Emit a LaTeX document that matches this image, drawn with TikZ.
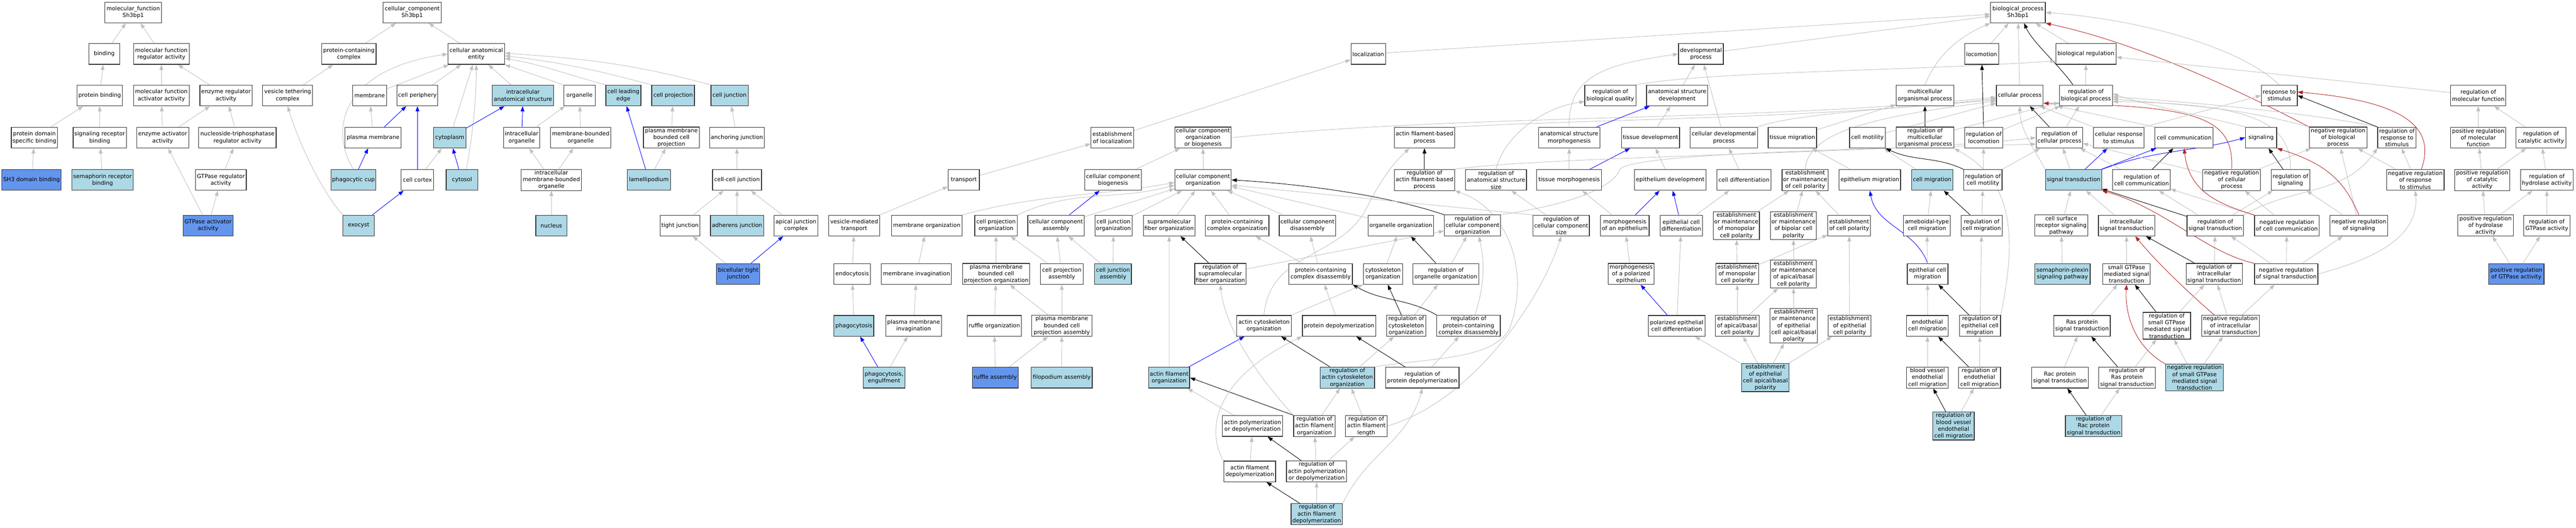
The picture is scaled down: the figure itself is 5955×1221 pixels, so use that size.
\documentclass[tikz,border=0pt]{standalone}
\usepackage{fontspec}
\setmainfont{DejaVu Sans}
\usetikzlibrary{arrows.meta,calc}
\definecolor{silv}{HTML}{C0C0C0}
\definecolor{fred}{HTML}{B22222}
\definecolor{lblue}{HTML}{ADD8E6}
\definecolor{cblue}{HTML}{6495ED}
\definecolor{bord}{HTML}{303030}
\pgfdeclarelayer{bg}
\pgfdeclarelayer{paper}
\pgfsetlayers{paper,bg,main}
\tikzset{
 bx/.style={draw=bord,line width=1.1pt,rectangle,align=center,inner xsep=1.5pt,inner ysep=1.7pt,minimum height=36pt,font=\fontsize{9.7}{11.85}\selectfont,fill=white},
 lb/.style={fill=lblue}, cb/.style={fill=cblue}, wt/.style={},
 ed/.style={line width=0.8pt,-{Triangle[length=9pt,width=6.5pt]}},
 g/.style={ed,draw=silv},
 bl/.style={ed,draw=blue},
 bk/.style={ed,draw=black},
 rd/.style={ed,draw=fred},
}
\newcommand{\nd}[6]{\node[bx,#5,minimum width={#4*0.75pt}] (#1) at (#2,#3) {#6};}
\begin{document}
\begin{tikzpicture}[x=0.75pt,y=-0.75pt]
\begin{pgfonlayer}{paper}
\fill[white] (0,0) rectangle (5955,1221);
\end{pgfonlayer}
\useasboundingbox (0,0) rectangle (5955,1221);
% ---------------- molecular function
\nd{mf}{308}{29}{131}{wt}{molecular\_function\\Sh3bp1}
\nd{binding}{241}{125}{72}{wt}{binding}
\nd{mfra}{373}{125}{128.5}{wt}{molecular function\\regulator activity}
\nd{pb}{230.5}{221}{104}{wt}{protein binding}
\nd{mfaa}{373}{221}{128.5}{wt}{molecular function\\activator activity}
\nd{era}{522.5}{221}{121}{wt}{enzyme regulator\\activity}
\nd{pdsb}{79.6}{318.5}{107}{wt}{protein domain\\specific binding}
\nd{srb}{230.5}{318.5}{123}{wt}{signaling receptor\\binding}
\nd{eaa}{376}{318.5}{120.5}{wt}{enzyme activator\\activity}
\nd{ntpra}{549}{318.5}{179}{wt}{nucleoside-triphosphatase\\regulator activity}
\nd{sh3}{73}{416.5}{137}{cb}{SH3 domain binding}
\nd{semb}{237}{416.5}{141}{lb}{semaphorin receptor\\binding}
\nd{gtpra}{510.7}{416.5}{117.4}{wt}{GTPase regulator\\activity}
\nd{gtpaa}{481}{522}{115.5}{cb}{GTPase activator\\activity}
% ---------------- cellular component
\nd{cc}{953}{29}{134.5}{wt}{cellular\_component\\Sh3bp1}
\nd{pcc}{806.4}{125}{126}{wt}{protein-containing\\complex}
\nd{cae}{1101}{125}{131}{wt}{cellular anatomical\\entity}
\nd{vtc}{665}{221}{115.5}{wt}{vesicle tethering\\complex}
\nd{mem}{854.5}{221}{78}{wt}{membrane}
\nd{cper}{965}{221}{94}{wt}{cell periphery}
\nd{ias}{1209}{221}{142}{lb}{intracellular\\anatomical structure}
\nd{org}{1339.7}{221}{73}{wt}{organelle}
\nd{cle}{1441}{221}{81}{lb}{cell leading\\edge}
\nd{cproj}{1556}{221}{98.7}{lb}{cell projection}
\nd{cjun}{1686.5}{221}{86}{lb}{cell junction}
\nd{pm}{862.5}{318.5}{130}{wt}{plasma membrane}
\nd{cyto}{1039.7}{318.5}{75}{lb}{cytoplasm}
\nd{io}{1206}{318.5}{84}{wt}{intracellular\\organelle}
\nd{mbo}{1342.5}{318.5}{139}{wt}{membrane-bounded\\organelle}
\nd{pmbcp}{1552}{318.5}{129}{wt}{plasma membrane\\bounded cell\\projection}
\nd{aj}{1703.5}{318.5}{126.5}{wt}{anchoring junction}
\nd{pcup}{817}{416.5}{104}{lb}{phagocytic cup}
\nd{cctx}{965}{416.5}{75}{wt}{cell cortex}
\nd{cytosol}{1068}{416.5}{73}{lb}{cytosol}
\nd{imbo}{1274.5}{416.5}{139}{wt}{intracellular\\membrane-bounded\\organelle}
\nd{lam}{1500}{416.5}{99.5}{lb}{lamellipodium}
\nd{ccj}{1703.7}{416.5}{113}{wt}{cell-cell junction}
\nd{exo}{829}{522}{72}{lb}{exocyst}
\nd{nuc}{1274.5}{522}{72}{lb}{nucleus}
\nd{tj}{1572}{522}{91}{wt}{tight junction}
\nd{adj}{1703.8}{522}{123}{lb}{adherens junction}
\nd{ajc}{1840}{522}{102}{wt}{apical junction\\complex}
\nd{btj}{1706.5}{634}{100}{cb}{bicellular tight\\junction}
% ---------------- biological process
\nd{bp}{4665}{29}{126.6}{wt}{biological\_process\\Sh3bp1}
\nd{loc}{3163}{125}{80}{wt}{localization}
\nd{dev}{3932}{125}{103.7}{wt}{developmental\\process}
\nd{loco}{4581}{125}{78}{wt}{locomotion}
\nd{breg}{4822}{125}{139.3}{wt}{biological regulation}
\nd{rbq}{3722.6}{221}{118}{wt}{regulation of\\biological quality}
\nd{asd}{3877}{221}{141}{wt}{anatomical structure\\development}
\nd{mop}{4450}{221}{133.3}{wt}{multicellular\\organismal process}
\nd{cp}{4669}{221}{108}{wt}{cellular process}
\nd{rbp}{4822}{221}{123}{wt}{regulation of\\biological process}
\nd{rts}{5269}{221}{83}{wt}{response to\\stimulus}
\nd{rmf}{5729}{221}{127.5}{wt}{regulation of\\molecular function}
\nd{estloc}{2571.5}{318.5}{99}{wt}{establishment\\of localization}
\nd{ccob}{2781}{318.5}{130.6}{wt}{cellular component\\organization\\or biogenesis}
\nd{afbp}{3293}{318.5}{139}{wt}{actin filament-based\\process}
\nd{asm}{3627.5}{318.5}{142}{wt}{anatomical structure\\morphogenesis}
\nd{td}{3815.7}{318.5}{134}{wt}{tissue development}
\nd{cdp}{3985}{318.5}{155.4}{wt}{cellular developmental\\process}
\nd{tm}{4143.4}{318.5}{112}{wt}{tissue migration}
\nd{cmot}{4317}{318.5}{83}{wt}{cell motility}
\nd{rmop}{4450}{318.5}{133.3}{wt}{regulation of\\multicellular\\organismal process}
\nd{rloco}{4586}{318.5}{88.4}{wt}{regulation of\\locomotion}
\nd{rcp}{4760.7}{318.5}{107}{wt}{regulation of\\cellular process}
\nd{crs}{4898}{318.5}{117}{wt}{cellular response\\to stimulus}
\nd{ccom}{5049}{318.5}{134.6}{wt}{cell communication}
\nd{sig}{5227}{318.5}{72}{wt}{signaling}
\nd{nrbp}{5405}{318.5}{133.3}{wt}{negative regulation\\of biological\\process}
\nd{rrs}{5541}{318.5}{89}{wt}{regulation of\\response to\\stimulus}
\nd{prmf}{5729}{318.5}{127.5}{wt}{positive regulation\\of molecular\\function}
\nd{rca}{5874}{318.5}{115}{wt}{regulation of\\catalytic activity}
\nd{transport}{2228}{416.5}{72}{wt}{transport}
\nd{ccbio}{2573}{416.5}{130.6}{wt}{cellular component\\biogenesis}
\nd{cco}{2781}{416.5}{130.6}{wt}{cellular component\\organization}
\nd{rafbp}{3293}{416.5}{139}{wt}{regulation of\\actin filament-based\\process}
\nd{rass}{3458.4}{416.5}{141}{wt}{regulation of\\anatomical structure\\size}
\nd{tmorph}{3627.5}{416.5}{150}{wt}{tissue morphogenesis}
\nd{epd}{3861}{416.5}{166}{wt}{epithelium development}
\nd{cdiff}{4031.6}{416.5}{125}{wt}{cell differentiation}
\nd{emcp}{4173}{416.5}{107}{wt}{establishment\\or maintenance\\of cell polarity}
\nd{epmig}{4322.6}{416.5}{142}{wt}{epithelium migration}
\nd{cmig}{4466.6}{416.5}{95}{lb}{cell migration}
\nd{rcmot}{4584}{416.5}{88.4}{wt}{regulation of\\cell motility}
\nd{st}{4793.5}{416.5}{130}{lb}{signal transduction}
\nd{rcc}{4950.5}{416.5}{133}{wt}{regulation of\\cell communication}
\nd{nrcp}{5159}{416.5}{133.3}{wt}{negative regulation\\of cellular\\process}
\nd{rsig}{5295}{416.5}{89}{wt}{regulation of\\signaling}
\nd{nrrs}{5583.5}{416.5}{133.3}{wt}{negative regulation\\of response\\to stimulus}
\nd{prca}{5738}{416.5}{127.5}{wt}{positive regulation\\of catalytic\\activity}
\nd{rha}{5887.5}{416.5}{121.6}{wt}{regulation of\\hydrolase activity}
\nd{vmt}{1974.7}{522}{118}{wt}{vesicle-mediated\\transport}
\nd{memorg}{2142.5}{522}{162.8}{wt}{membrane organization}
\nd{cpo}{2302.5}{522}{98.5}{wt}{cell projection\\organization}
\nd{cca}{2441}{522}{130}{wt}{cellular component\\assembly}
\nd{cjo}{2574}{522}{85.7}{wt}{cell junction\\organization}
\nd{sfo}{2702.7}{522}{119}{wt}{supramolecular\\fiber organization}
\nd{pcco}{2860}{522}{147}{wt}{protein-containing\\complex organization}
\nd{ccd}{3022.4}{522}{130.6}{wt}{cellular component\\disassembly}
\nd{oo}{3238.4}{522}{151.4}{wt}{organelle organization}
\nd{rcco}{3404}{522}{130}{wt}{regulation of\\cellular component\\organization}
\nd{rccs}{3609}{522}{130.6}{wt}{regulation of\\cellular component\\size}
\nd{moae}{3756}{522}{112.5}{wt}{morphogenesis\\of an epithelium}
\nd{ecd}{3886.6}{522}{97.7}{wt}{epithelial cell\\differentiation}
\nd{emmcp}{4014}{522}{106.5}{wt}{establishment\\or maintenance\\of monopolar\\cell polarity}
\nd{embcp}{4146}{522}{106.5}{wt}{establishment\\or maintenance\\of bipolar cell\\polarity}
\nd{ecp}{4274.7}{522}{98.5}{wt}{establishment\\of cell polarity}
\nd{atcm}{4454.5}{522}{108.5}{wt}{ameboidal-type\\cell migration}
\nd{rcmig}{4581}{522}{95}{wt}{regulation of\\cell migration}
\nd{csrsp}{4765}{522}{122.6}{wt}{cell surface\\receptor signaling\\pathway}
\nd{ist}{4916}{522}{130}{wt}{intracellular\\signal transduction}
\nd{rst}{5121}{522}{130.7}{wt}{regulation of\\signal transduction}
\nd{nrcc}{5286.5}{522}{149.7}{wt}{negative regulation\\of cell communication}
\nd{nrsig}{5453}{522}{132.7}{wt}{negative regulation\\of signaling}
\nd{prha}{5746}{522}{128}{wt}{positive regulation\\of hydrolase\\activity}
\nd{rgtpa}{5887.5}{522}{107}{wt}{regulation of\\GTPase activity}
\nd{endo}{1970}{634}{84}{wt}{endocytosis}
\nd{meminv}{2118.6}{634}{162}{wt}{membrane invagination}
\nd{pmbcpo}{2302.8}{634}{155.4}{wt}{plasma membrane\\bounded cell\\projection organization}
\nd{cpa}{2454.6}{634}{98.5}{wt}{cell projection\\assembly}
\nd{cja}{2573}{634}{85}{lb}{cell junction\\assembly}
\nd{rsfo}{2821}{634}{118}{wt}{regulation of\\supramolecular\\fiber organization}
\nd{pccd}{3053}{634}{146.7}{wt}{protein-containing\\complex disassembly}
\nd{cso}{3197}{634}{90.4}{wt}{cytoskeleton\\organization}
\nd{roo}{3342.5}{634}{152}{wt}{regulation of\\organelle organization}
\nd{mpe}{3770.5}{634}{106.5}{wt}{morphogenesis\\of a polarized\\epithelium}
\nd{emon}{4016}{634}{98.5}{wt}{establishment\\of monopolar\\cell polarity}
\nd{emab}{4146}{634}{106.5}{wt}{establishment\\or maintenance\\of apical/basal\\cell polarity}
\nd{ecm}{4456}{634}{94}{wt}{epithelial cell\\migration}
\nd{spsp}{4767.7}{634}{128}{lb}{semaphorin-plexin\\signaling pathway}
\nd{sgst}{4916}{634}{110}{wt}{small GTPase\\mediated signal\\transduction}
\nd{rist}{5118.5}{634}{130}{wt}{regulation of\\intracellular\\signal transduction}
\nd{nrst}{5285}{634}{146.4}{wt}{negative regulation\\of signal transduction}
\nd{prgtpa}{5817}{634}{128}{cb}{positive regulation\\of GTPase activity}
\nd{phago}{1974}{754}{92}{lb}{phagocytosis}
\nd{pminv}{2112}{754}{128.6}{wt}{plasma membrane\\invagination}
\nd{ruforg}{2298.6}{754}{125}{wt}{ruffle organization}
\nd{pmbcpa}{2454.6}{754}{138.6}{wt}{plasma membrane\\bounded cell\\projection assembly}
\nd{aco}{2922}{754}{125.5}{wt}{actin cytoskeleton\\organization}
\nd{pdepol}{3095.7}{754}{170}{wt}{protein depolymerization}
\nd{rcso}{3250.8}{754}{90.4}{wt}{regulation of\\cytoskeleton\\organization}
\nd{rpccd}{3394.7}{754}{146.7}{wt}{regulation of\\protein-containing\\complex disassembly}
\nd{pecd}{3876}{754}{130.5}{wt}{polarized epithelial\\cell differentiation}
\nd{eab}{4016}{754}{102}{wt}{establishment\\of apical/basal\\cell polarity}
\nd{emeab}{4146.5}{754}{110}{wt}{establishment\\or maintenance\\of epithelial\\cell apical/basal\\polarity}
\nd{eecp}{4275.7}{754}{99}{wt}{establishment\\of epithelial\\cell polarity}
\nd{endcm}{4455.6}{754}{96}{wt}{endothelial\\cell migration}
\nd{recm}{4577}{754}{95}{wt}{regulation of\\epithelial cell\\migration}
\nd{rasst}{4813}{754}{130.6}{wt}{Ras protein\\signal transduction}
\nd{rsgst}{5009}{754}{110}{wt}{regulation of\\small GTPase\\mediated signal\\transduction}
\nd{nrist}{5156}{754}{133.3}{wt}{negative regulation\\of intracellular\\signal transduction}
\nd{phagoe}{2043.7}{874}{96.5}{lb}{phagocytosis,\\engulfment}
\nd{rufa}{2301}{874}{106.5}{cb}{ruffle assembly}
\nd{filo}{2454.5}{874}{141}{lb}{filopodium assembly}
\nd{afo}{2702.6}{874}{95}{lb}{actin filament\\organization}
\nd{raco}{3114.5}{874}{126}{lb}{regulation of\\actin cytoskeleton\\organization}
\nd{rpdepol}{3288}{874}{170}{wt}{regulation of\\protein depolymerization}
\nd{eeab}{4081}{874}{110}{lb}{establishment\\of epithelial\\cell apical/basal\\polarity}
\nd{bvecm}{4455.6}{874}{96}{wt}{blood vessel\\endothelial\\cell migration}
\nd{rendcm}{4576}{874}{97}{wt}{regulation of\\endothelial\\cell migration}
\nd{racst}{4762}{874}{130.6}{wt}{Rac protein\\signal transduction}
\nd{rrasst}{4917}{874}{130.5}{wt}{regulation of\\Ras protein\\signal transduction}
\nd{nrsgst}{5073}{874}{133.3}{lb}{negative regulation\\of small GTPase\\mediated signal\\transduction}
\nd{apd}{2895.5}{986}{139}{wt}{actin polymerization\\or depolymerization}
\nd{rafo}{3038.5}{986}{95.8}{wt}{regulation of\\actin filament\\organization}
\nd{rafl}{3158.4}{986}{95.8}{wt}{regulation of\\actin filament\\length}
\nd{rbvecm}{4516}{986}{95.8}{lb}{regulation of\\blood vessel\\endothelial\\cell migration}
\nd{rracst}{4840}{986}{130.6}{lb}{regulation of\\Rac protein\\signal transduction}
\nd{afd}{2889}{1091}{120}{wt}{actin filament\\depolymerization}
\nd{rapd}{3043.4}{1091}{139.3}{wt}{regulation of\\actin polymerization\\or depolymerization}
\nd{rafd}{3044}{1190}{119}{lb}{regulation of\\actin filament\\depolymerization}
\begin{pgfonlayer}{bg}
% MF edges
\draw[g] (binding) -- (mf);
\draw[g] (mfra) -- (mf);
\draw[g] (pb) -- (binding);
\draw[g] (mfaa) -- (mfra);
\draw[g] (era) -- (mfra);
\draw[g] (pdsb) -- (pb);
\draw[g] (srb) -- (pb);
\draw[g] (eaa) -- (mfaa);
\draw[g] (eaa) -- (era);
\draw[g] (ntpra) -- (era);
\draw[g] (sh3) -- (pdsb);
\draw[g] (semb) -- (srb);
\draw[g] (gtpra) -- (ntpra);
\draw[g] (gtpaa) -- (eaa);
\draw[g] (gtpaa) -- (gtpra);
% CC edges
\draw[g] (pcc) -- (cc);
\draw[g] (cae) -- (cc);
\draw[g] (vtc) -- (pcc);
\draw[g] (mem) -- (cae);
\draw[g] (cper) -- (cae);
\draw[g] (ias) -- (cae);
\draw[g] (org.north west) -- (cae.south east);
\draw[g] (cle.north west) to[out=165,in=-10] ($(cae.east)+(0,10)$);
\draw[g] (cproj.north west) to[out=165,in=-7] ($(cae.east)+(0,4)$);
\draw[g] (cjun.north west) to[out=165,in=-4] ($(cae.east)+(0,-2)$);
\draw[g] (pcup.north) .. controls (760,300) and (790,160) .. (cae.west);
\draw[g] (cyto) -- (cae);
\draw[g] ($(cytosol.north)+(10,0)$) .. controls (1095,300) and (1101,220) .. (cae.south);
\draw[g] (pm) -- (mem);
\draw[bl] (pm) -- (cper);
\draw[bl] (cctx) -- (cper);
\draw[bl] (cyto) -- (ias);
\draw[bl] (io) -- (ias);
\draw[g] (io) -- (org);
\draw[g] (mbo) -- (org);
\draw[g] (imbo) -- (io);
\draw[g] (imbo) -- (mbo);
\draw[g] (nuc) -- (imbo);
\draw[bl] (pcup) -- (pm);
\draw[g] (cctx) -- (cyto);
\draw[bl] (cytosol) -- (cyto);
\draw[bl] (exo) -- (cctx);
\draw[g] (exo.north west) .. controls (745,445) and (690,330) .. (vtc.south);
\draw[bl] (lam) -- (cle);
\draw[g] (lam) -- (pmbcp);
\draw[g] (pmbcp) -- (cproj);
\draw[g] (aj) -- (cjun);
\draw[g] (ccj) -- (aj);
\draw[g] (tj) -- (ccj);
\draw[g] (adj) -- (ccj);
\draw[g] (ajc) -- (ccj);
\draw[g] (btj) -- (tj);
\draw[bl] (btj) -- (ajc);
% BP top
\draw[g] (loc) -- (bp);
\draw[g] (dev) -- (bp);
\draw[g] (loco) -- (bp);
\draw[g] (breg) -- (bp);
\draw[g] (mop.north) .. controls (4480,120) and (4540,80) .. (bp.south west);
\draw[g] (cp) -- (bp);
\draw[bk] ($(rbp.north)+(-30,0)$) .. controls (4760,150) and (4700,100) .. ($(bp.south)+(14,0)$);
\draw[g] (rts.north) .. controls (5180,110) and (4950,45) .. (bp.east);
\draw[rd] (nrbp.north west) .. controls (5100,170) and (4900,90) .. (bp.south east);
\draw[g] (rmf) -- (breg);
\draw[g] (rbq.north east) .. controls (3950,165) and (4400,165) .. ($(breg.west)+(0,16)$);
\draw[g] (rbp) -- (breg);
\draw[g] (asd) -- (dev);
\draw[g] (cdp) -- (dev);
\draw[g] (asm.north) .. controls (3625,180) and (3700,150) .. (dev.west);
\draw[bk] (rmop) -- (mop);
\draw[g] (tm) -- (mop);
\draw[g] (ccob.east) .. controls (3406,263) and (4055,282) .. ($(cp.west)+(0,4)$);
\draw[g] (afbp.north east) .. controls (3700,275) and (4200,275) .. ($(cp.west)+(0,7)$);
\draw[g] (cdp.north east) .. controls (4150,262) and (4400,250) .. ($(cp.west)+(0,10)$);
\draw[g] (cmot) -- ($(cp.west)+(0,18)$);
\draw[g] (emcp.north) .. controls (4180,300) and (4350,268) .. ($(cp.west)+(0,13)$);
\draw[bk] (rcp) -- (cp);
\draw[g] (crs.north west) -- ($(cp.south east)+(-8,0)$);
\draw[g] (st.north west) .. controls (4700,340) and (4670,300) .. (cp.south);
\draw[rd] (nrcp.north) .. controls (5165,270) and (5080,245) .. ($(cp.east)+(0,18)$);
\draw[g] (ccom.north west) -- ($(rbp.south west)+(-4,0)$);
\draw[g] (sig.north west) .. controls (5100,270) and (4950,240) .. ($(rbp.east)+(0,-4)$);
\draw[g] (rmop) -- (rbp);
\draw[g] (rloco) -- (rbp);
\draw[g] (rcp) -- (rbp);
\draw[g] (nrbp.north west) to[out=165,in=-5] ($(rbp.east)+(0,8)$);
\draw[g] (rrs.north west) .. controls (5350,262) and (5050,235) .. ($(rbp.east)+(0,3)$);
\draw[g] (rsig.north) .. controls (5296,280) and (5200,240) .. ($(rbp.east)+(0,14)$);
\draw[bk] (rloco) -- (loco);
\draw[g] (crs.north east) -- (rts.west);
\draw[bk] (rrs.north west) -- (rts.east);
\draw[rd] ($(nrrs.north)+(14,0)$) .. controls (5630,300) and (5570,235) .. ($(rts.east)+(0,-8)$);
\draw[g] (prmf) -- (rmf);
\draw[g] (rca) -- (rmf);
\draw[g] (estloc) -- (loc);
\draw[g] (transport) -- (estloc);
\draw[g] (ccbio) -- (ccob);
\draw[g] (cco) -- (ccob);
\draw[bl] (asm) -- (asd);
\draw[g] (td) -- (asd);
\draw[g] (tmorph) -- (asm);
\draw[bl] (tmorph) -- (td);
\draw[g] (epd) -- (td);
\draw[bk] (rafbp) -- (afbp);
\draw[g] (aco.north) .. controls (2935,580) and (3100,600) .. (3160,480) .. controls (3200,400) and (3230,370) .. ($(afbp.south)+(-35,0)$);
\draw[g] (rafbp.north east) .. controls (3600,360) and (4400,355) .. (rcp.west);
\draw[g] (rcco.north east) .. controls (3650,470) and (3730,430) .. (3745,392) .. controls (3770,355) and (4300,345) .. ($(rcp.west)+(0,15)$);
\draw[g] (rass.north) .. controls (3475,320) and (3560,250) .. ($(rbq.west)+(0,14)$);
\draw[g] (rccs) -- (rass);
\draw[g] (moae) -- (tmorph);
\draw[bl] (moae) -- (epd);
\draw[bl] (ecd) -- (epd);
\draw[g] (ecd) -- (cdiff);
\draw[g] (cdiff) -- (cdp);
\draw[g] (emmcp) -- (emcp);
\draw[g] (embcp) -- (emcp);
\draw[g] (ecp) -- (emcp);
\draw[g] (epmig) -- (tm);
\draw[g] (cmig) -- (cmot);
\draw[bk] (rcmot.north west) to[out=155,in=-25] (cmot.south east);
\draw[bl] (ecm.north) to[out=110,in=-80] (epmig.south);
\draw[g] (atcm) -- (cmig);
\draw[bk] (rcmig) -- (cmig);
\draw[g] (rcmig) -- (rcmot);
\draw[g] (rcmot) -- (rloco);
\draw[g] (rcmot) -- (rcp);
\draw[g] (recm.north east) .. controls (4660,560) and (4660,420) .. (rmop.south east);
\draw[g] (st) -- (rcp);
\draw[bl] (st) -- (crs);
\draw[bl] (st) -- (ccom);
\draw[bl] (st.north east) to[out=20,in=195] (sig.west);
\draw[g] (rcc) -- (rcp);
\draw[bk] (rcc) -- (ccom);
\draw[g] (nrcp) -- (rcp);
\draw[g] (nrcp) -- (nrbp);
\draw[bk] (rsig) -- (sig);
\draw[g] (nrrs) -- (rrs);
\draw[g] (nrrs) -- (nrbp);
\draw[g] (prca) -- (prmf);
\draw[g] (prca) -- (rca);
\draw[g] (rha) -- (rca);
\draw[g] (prha) -- (prca);
\draw[g] (prha) -- (rha);
\draw[g] (rgtpa) -- (rha);
\draw[g] (prgtpa) -- (prha);
\draw[g] (prgtpa) -- (rgtpa);
\draw[g] (rst) -- (rcc);
\draw[g] (rst) -- (rsig);
\draw[bk] (rst) -- (st);
\draw[g] (rst.north east) to[out=30,in=-125] (rrs.south west);
\draw[g] (nrcc) -- (rcc);
\draw[g] (nrcc) -- (nrcp);
\draw[rd] (nrcc.north west) .. controls (5120,470) and (5060,440) .. (ccom.south);
\draw[g] (nrsig) -- (rsig);
\draw[g] (nrsig) -- (nrbp);
\draw[rd] (nrsig.north) .. controls (5420,420) and (5380,380) .. (sig.south east);
\draw[g] (ist) -- (st);
\draw[g] (csrsp) -- (st);
\draw[bk] (rist) -- (ist);
\draw[g] (rist) -- (rst);
\draw[g] (nrst) -- (rst);
\draw[g] (nrst) -- (nrcc);
\draw[g] (nrst) -- (nrsig);
\draw[g] (nrst.east) to[out=15,in=-85] (nrrs.south);
\draw[rd] (nrst.north west) .. controls (5100,585) and (5000,480) .. (st.south east);
\draw[rd] ($(nrist.north west)+(30,0)$) .. controls (5040,660) and (4980,600) .. ($(ist.south)+(20,0)$);
\draw[g] (nrist) -- (rist);
\draw[g] (nrist) -- (nrst);
\draw[bk] (rsgst) -- (sgst);
\draw[g] (rsgst) -- (rist);
\draw[g] (nrsgst) -- (rsgst);
\draw[g] (nrsgst) -- (nrist);
\draw[rd] (nrsgst.north west) .. controls (4930,800) and (4912,720) .. (sgst.south);
\draw[g] (sgst) -- (ist);
\draw[g] (rasst) -- (sgst);
\draw[g] (racst) -- (rasst);
\draw[bk] (rrasst) -- (rasst);
\draw[g] (rrasst) -- (rsgst);
\draw[bk] (rracst) -- (racst);
\draw[g] (rracst) -- (rrasst);
\draw[g] (spsp) -- (csrsp);
\draw[g] (ecm) -- (atcm);
\draw[g] (endcm) -- (ecm);
\draw[bk] (recm) -- (ecm);
\draw[g] (recm) -- (rcmig);
\draw[g] (bvecm) -- (endcm);
\draw[bk] (rendcm) -- (endcm);
\draw[g] (rendcm) -- (recm);
\draw[bk] (rbvecm) -- (bvecm);
\draw[g] (rbvecm) -- (rendcm);
\draw[g] (emon) -- (emmcp);
\draw[g] (eab) -- (emon);
\draw[g] (eab) -- (emab);
\draw[g] (emeab) -- (emab);
\draw[g] (eecp) -- (ecp);
\draw[g] (eeab) -- (pecd);
\draw[g] (eeab) -- (eab);
\draw[g] (eeab) -- (emeab);
\draw[g] (eeab) -- (eecp);
\draw[g] (emab) -- (embcp);
\draw[g] (emon) -- (ecp);
\draw[g] (mpe) -- (moae);
\draw[bl] (pecd) -- (mpe);
\draw[g] (pecd) -- (ecd);
% BP left cluster
\draw[g] (vmt) -- (transport);
\draw[g] (memorg.north east) to[out=15,in=190] ($(cco.west)+(0,6)$);
\draw[g] (cpo.north east) to[out=25,in=195] ($(cco.west)+(0,12)$);
\draw[bl] (cca) -- (ccbio);
\draw[g] (cca) -- (cco);
\draw[g] (cjo) -- (cco);
\draw[g] (sfo) -- (cco);
\draw[g] (pcco) -- (cco);
\draw[bk] (rcco.north west) .. controls (3200,450) and (3000,425) .. (cco.east);
\draw[g] (ccd) -- (cco);
\draw[g] (oo) -- (cco);
\draw[g] (rccs.north west) -- ($(cco.east)+(0,12)$);
\draw[g] (endo) -- (vmt);
\draw[g] (meminv) -- (memorg);
\draw[g] (pmbcpo) -- (cpo);
\draw[g] (cpa) -- (cpo);
\draw[g] (cpa) -- (cca);
\draw[g] (cja) -- (cca);
\draw[g] (cja) -- (cjo);
\draw[bk] (rsfo) -- (sfo);
\draw[g] (afo) -- (sfo);
\draw[g] (phago) -- (endo);
\draw[g] (pminv) -- (meminv);
\draw[g] (ruforg) -- (pmbcpo);
\draw[g] (pmbcpa) -- (pmbcpo);
\draw[g] (pmbcpa) -- (cpa);
\draw[bl] (phagoe) -- (phago);
\draw[g] (phagoe) -- (pminv);
\draw[g] (rufa) -- (ruforg);
\draw[g] (rufa) -- (pmbcpa);
\draw[g] (filo) -- (pmbcpa);
\draw[bl] (afo) -- (aco);
\draw[g] (apd) -- (afo);
\draw[bk] (rafo.north west) -- (afo.east);
\draw[g] (rafo.north west) .. controls (2880,840) and (2830,740) .. (rsfo.south);
\draw[g] (afd) -- (apd);
\draw[g] (afd.north west) .. controls (2790,1000) and (2800,880) .. (pdepol.south west);
\draw[bk] (rafd) -- (afd);
\draw[g] (rafd) -- (rapd);
\draw[g] (rafd.north east) to[out=65,in=-105] (rpdepol.south);
\draw[bk] (rapd) -- (apd);
\draw[g] (rapd) -- (rafo);
\draw[g] (rapd) -- (rafl);
\draw[g] (rafo) -- (raco);
\draw[g] (rafl) -- (raco);
\draw[g] (rafl.east) .. controls (3400,930) and (3560,700) .. (rccs.south);
\draw[bk] (raco) -- (aco);
\draw[g] (raco) -- (rcso);
\draw[g] (raco.north east) .. controls (3300,828) and (3450,835) .. (3490,760) .. controls (3540,620) and (3480,480) .. (rafbp.south east);
\draw[bk] (rpdepol) -- (pdepol);
\draw[g] (rpdepol) -- (rpccd);
\draw[bk] (rcso) -- (cso);
\draw[g] (rcso) -- (roo);
\draw[bk] (rpccd.north west) to[out=150,in=-30] (pccd.south east);
\draw[g] ($(rpccd.north)+(15,0)$) .. controls (3435,650) and (3430,600) .. ($(rcco.south)+(15,0)$);
\draw[bk] (roo) -- (oo);
\draw[g] (roo) -- (rcco);
\draw[g] (aco.north east) -- (cso.south west);
\draw[g] (pdepol) -- (pccd);
\draw[g] (cso) -- (oo);
\draw[g] (pccd) -- (ccd);
\draw[g] (pccd) -- (pcco);
\draw[g] (rsfo) -- (rcco);
\end{pgfonlayer}
\end{tikzpicture}
\end{document}
